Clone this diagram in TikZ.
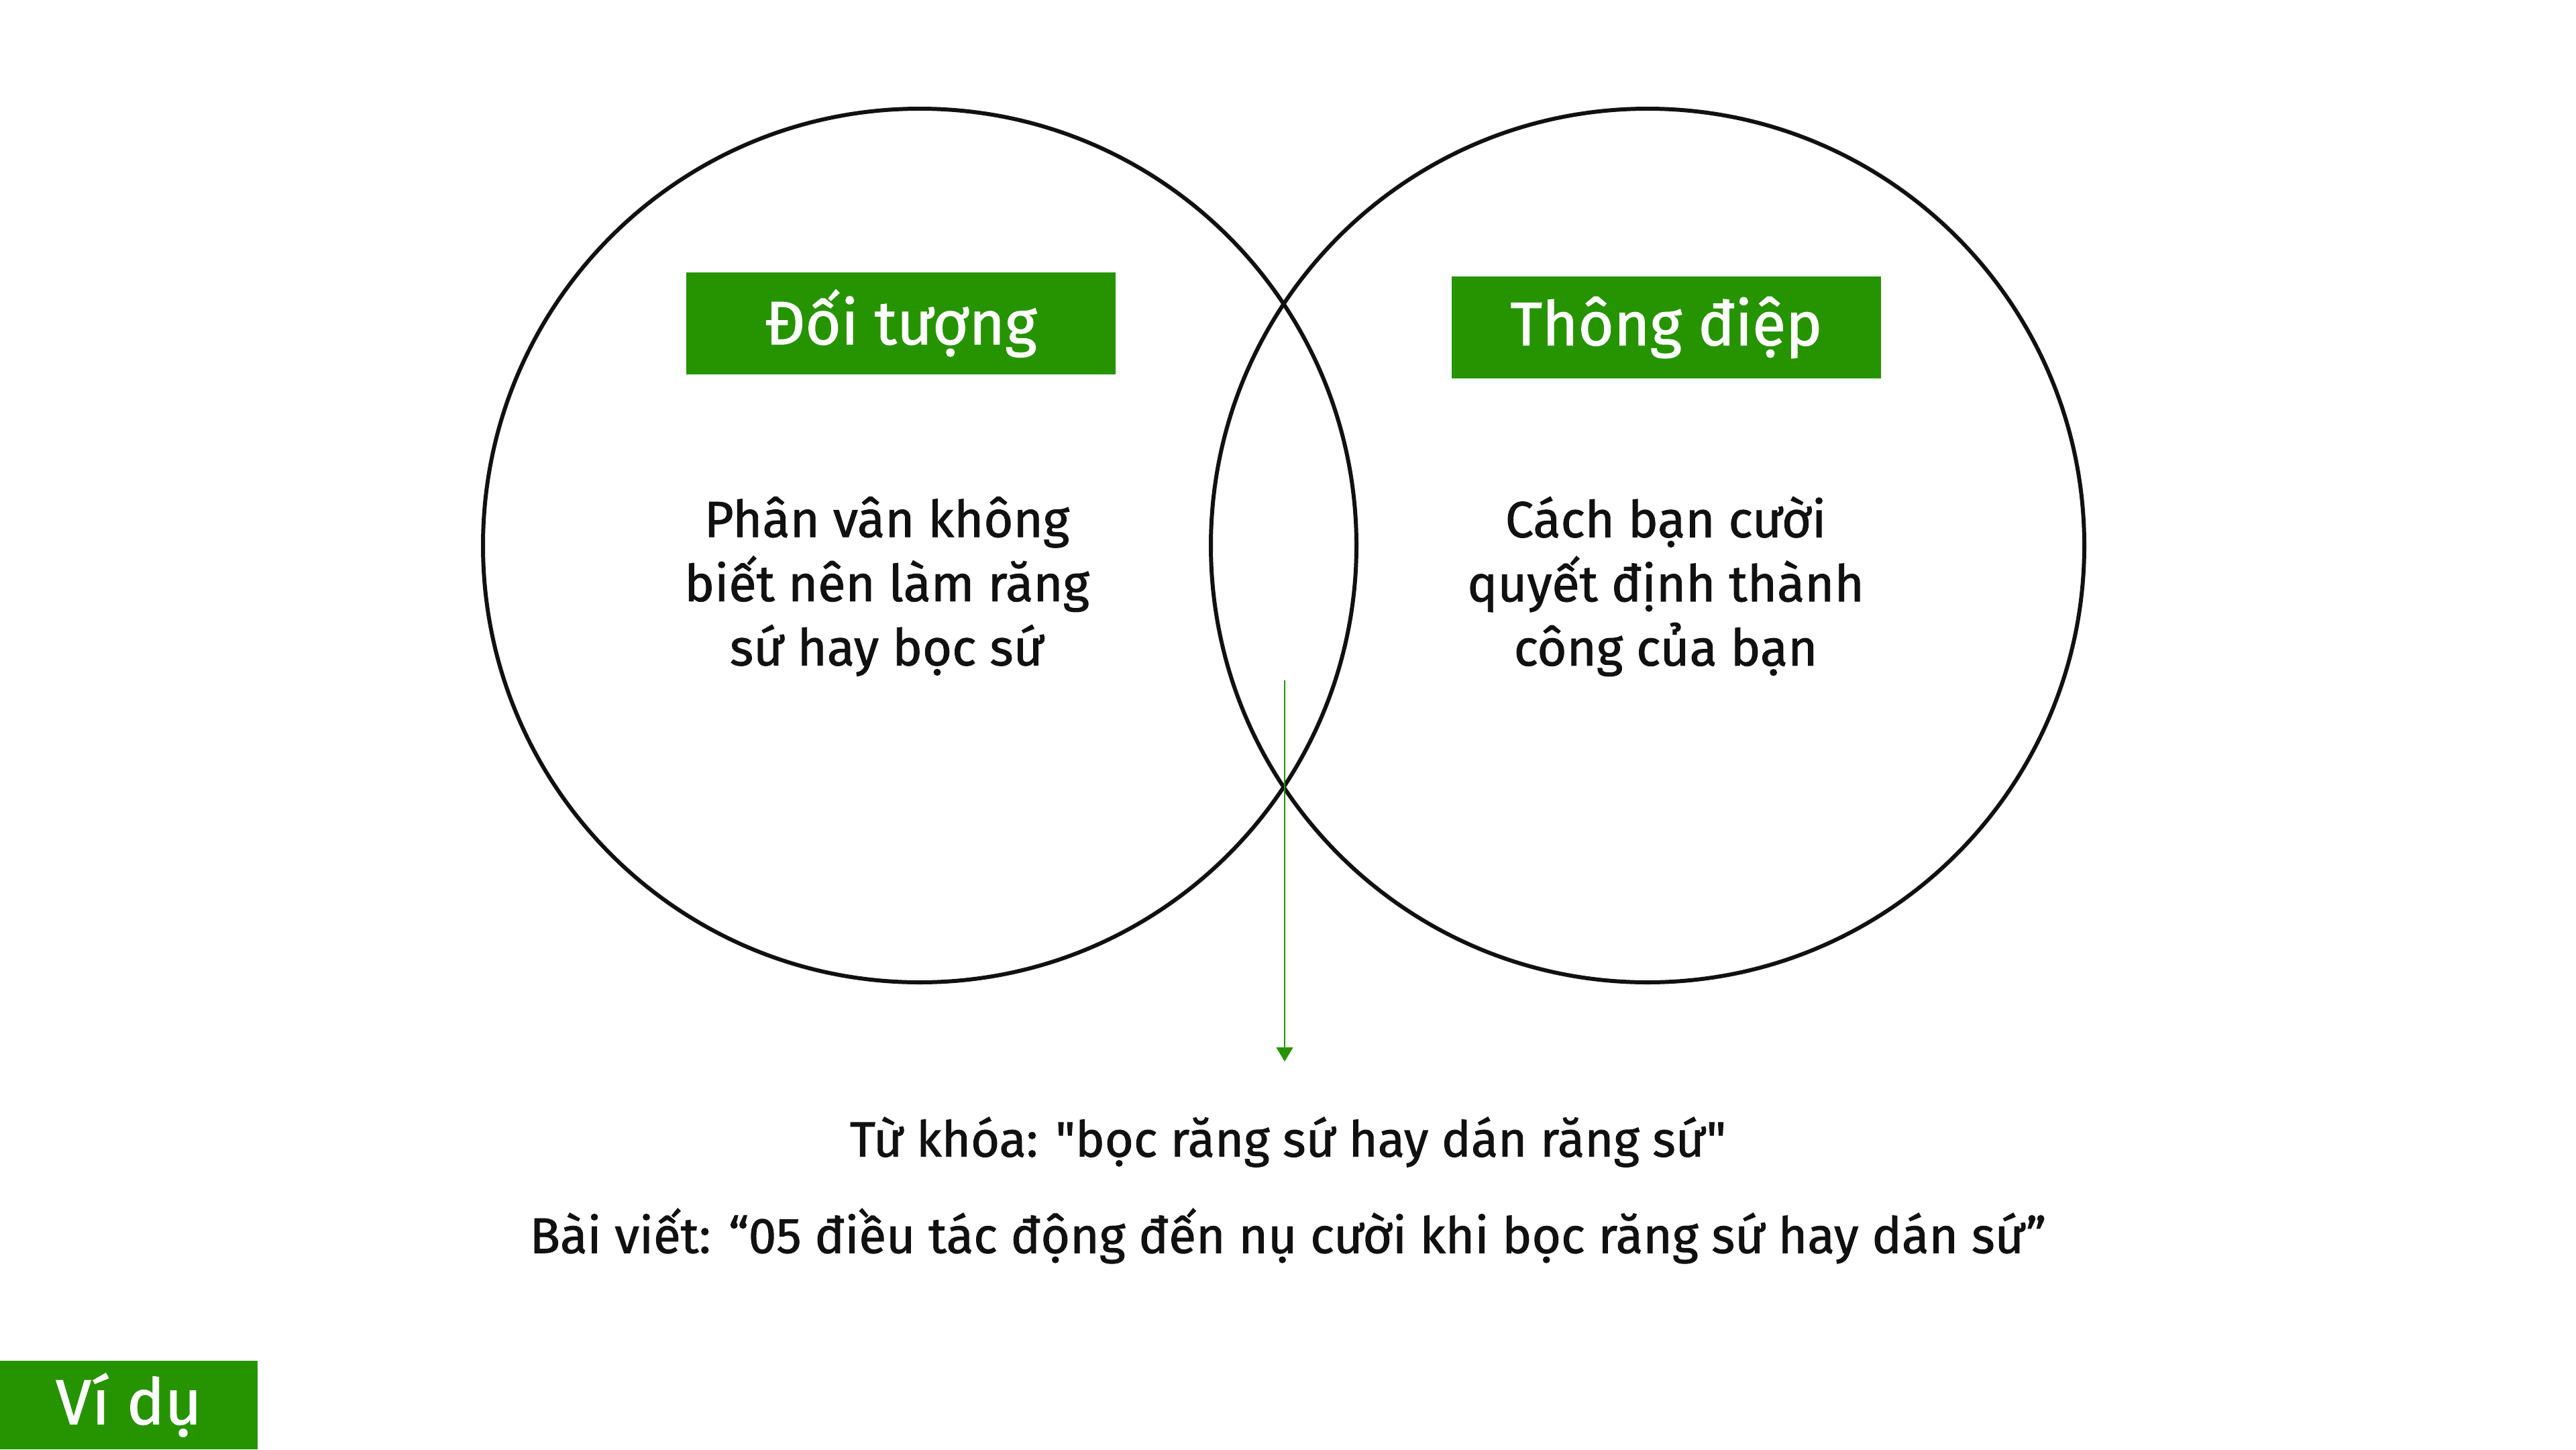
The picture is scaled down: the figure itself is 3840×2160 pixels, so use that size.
\documentclass[tikz,border=0pt]{standalone}
\usepackage{fontspec}
\setmainfont{Fira Sans}[Ligatures=TeXOff,FakeBold=1.2]
\usetikzlibrary{arrows.meta}
\definecolor{xanh}{RGB}{38,148,0}
\definecolor{chu}{RGB}{17,17,17}
\begin{document}
\begin{tikzpicture}[x=0.01cm,y=-0.01cm,
    vong/.style={draw=chu,line width=1.7pt},
    nhan/.style={fill=xanh,text=white,minimum width=6.39cm,minimum height=1.52cm,inner sep=0pt,font=\fontsize{26}{30}\selectfont},
    noidung/.style={text=chu,align=center,font=\fontsize{21.5}{27.2}\selectfont},
    dong/.style={text=chu,font=\fontsize{21.2}{26}\selectfont}] % Venn: Doi tuong - Thong diep
            \useasboundingbox (0,0) rectangle (3840,2160);

            \coordinate (O1) at (1371,813);
            \coordinate (O2) at (2456,813);

            \draw[vong] (O1) circle (651);
            \draw[vong] (O2) circle (651);

            \node[nhan] (doituong) at (1343,482) {\raisebox{-2pt}{Đối tượng}};
            \node[nhan] (thongdiep) at (2484,488) {\raisebox{-2pt}{Thông điệp}};

            \node[noidung] (trai) at (1322,874) {Phân vân không\\biết nên làm răng\\sứ hay bọc sứ};
            \node[noidung] (phai) at (2483,874) {Cách bạn cười\\quyết định thành\\công của bạn};

            \node[dong,font=\fontsize{21}{26}\selectfont] (tukhoa) at (1920,1702) {Từ khóa: "bọc răng sứ hay dán răng sứ"};
            \node[dong] (baiviet) at (1920,1842) {Bài viết: “05 điều tác động đến nụ cười khi bọc răng sứ hay dán sứ”};

            \coordinate (A) at (1915,1014);
            \coordinate (B) at (1915,1582);
            \draw[xanh,line width=0.7pt,-{Triangle[width=7pt,length=6pt]}] (A) -- (B);

            \fill[xanh] (0,2028) rectangle (384,2160);
            \node[text=white,font=\fontsize{27}{30}\selectfont] (vidu) at (192,2094) {Ví dụ};
        \end{tikzpicture}
\end{document}
